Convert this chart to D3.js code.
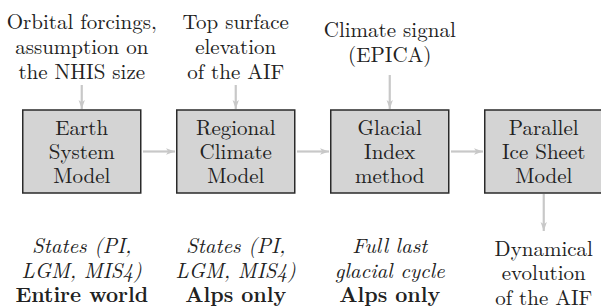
<!DOCTYPE html>
<html>
<head>
<meta charset="utf-8">
<script src="https://cdn.jsdelivr.net/npm/d3@7"></script>
<style>
  body { margin: 0; background: #fff; }
</style>
</head>
<body>
<svg id="chart" width="601" height="306"></svg>
<script>
"use strict";

// steps of the model chain
var steps = ["esm", "rcm", "gi", "pism"];
var boxLabels = [
  ["Earth", "System", "Model"],
  ["Regional", "Climate", "Model"],
  ["Glacial", "Index", "method"],
  ["Parallel", "Ice Sheet", "Model"]
];
var inputLabels = [
  ["Orbital forcings,", "assumption on", "the NHIS size"],
  ["Top surface", "elevation", "of the AIF"],
  ["Climate signal", "(EPICA)"],
  []
];
// output lines: [text, style]
var outputLabels = [
  [["States (PI,", "i"], ["LGM, MIS4)", "i"], ["Entire world", "b"]],
  [["States (PI,", "i"], ["LGM, MIS4)", "i"], ["Alps only", "b"]],
  [["Full last", "i"], ["glacial cycle", "i"], ["Alps only", "b"]],
  [["Dynamical", "n"], ["evolution", "n"], ["of the AIF", "n"]]
];

var config = {
  boxTop: 110, boxBottom: 193,
  fontSize: 21,
  font: "'Latin Modern Roman', 'Liberation Serif', serif",
  arrowColor: "#c8c8c8"
};

var svg = d3.select("#chart");

// last box runs just past the right edge, as in the original
var x = d3.scaleBand()
  .domain(steps)
  .range([22, 603.5])
  .paddingInner(0.224)
  .paddingOuter(0);

svg.append("defs").append("marker")
  .attr("id", "head")
  .attr("viewBox", "0 0 10 10")
  .attr("refX", 10).attr("refY", 5)
  .attr("markerWidth", 9).attr("markerHeight", 9)
  .attr("markerUnits", "userSpaceOnUse")
  .attr("orient", "auto")
  .append("path")
  .attr("d", "M0,1.5 L10,5 L0,8.5 L2.5,5 Z")
  .attr("fill", config.arrowColor);

function arrow(x1, y1, x2, y2) {
  svg.append("line")
    .attr("x1", x1).attr("y1", y1)
    .attr("x2", x2).attr("y2", y2)
    .attr("stroke", config.arrowColor)
    .attr("stroke-width", 2.2)
    .attr("marker-end", "url(#head)");
}

function label(sel, t, cx, y) {
  return sel.append("text")
    .attr("x", cx)
    .attr("y", y)
    .attr("text-anchor", "middle")
    .attr("font-family", config.font)
    .attr("font-size", config.fontSize)
    .attr("fill", "#222")
    .text(t);
}

var boxMid = (config.boxTop + config.boxBottom) / 2;

// horizontal arrows between boxes
steps.slice(1).forEach(function(s, i) {
  arrow(x(steps[i]) + x.bandwidth() + 1.5, boxMid, x(s) - 1, boxMid);
});

// boxes
var g = svg.selectAll("g.step")
  .data(steps)
  .enter().append("g")
  .attr("class", "step")
  .attr("transform", function(d) { return "translate(" + x(d) + ",0)"; });

g.append("rect")
  .attr("x", 0.75)
  .attr("y", config.boxTop)
  .attr("width", x.bandwidth() - 1.5)
  .attr("height", config.boxBottom - config.boxTop)
  .attr("fill", "#d4d4d4")
  .attr("stroke", "#2a2a2a")
  .attr("stroke-width", 1.5);

g.each(function(d, i) {
  var cx = x.bandwidth() / 2;
  var sel = d3.select(this);

  boxLabels[i].forEach(function(t, j) {
    label(sel, t, cx, 135 + j * 24);
  });

  // inputs above the box
  var ins = inputLabels[i];
  var y0 = ins.length === 3 ? 29 : 37;
  ins.forEach(function(t, j) {
    label(sel, t, cx, y0 + j * 25);
  });
  if (ins.length) {
    var top = ins.length === 3 ? 85 : 75;
    arrow(x(d) + cx, top, x(d) + cx, config.boxTop - 1);
  }

  var o0 = i === steps.length - 1 ? 255.5 : 253;
  outputLabels[i].forEach(function(o, j) {
    label(sel, o[0], cx, o0 + j * 24.5)
      .attr("font-style", o[1] === "i" ? "italic" : "normal")
      .attr("font-weight", o[1] === "b" ? "bold" : "normal");
  });
});

// last box feeds the ice sheet evolution below
var last = steps[steps.length - 1];
arrow(x(last) + x.bandwidth() / 2, config.boxBottom + 1, x(last) + x.bandwidth() / 2, 231);
</script>
</body>
</html>
